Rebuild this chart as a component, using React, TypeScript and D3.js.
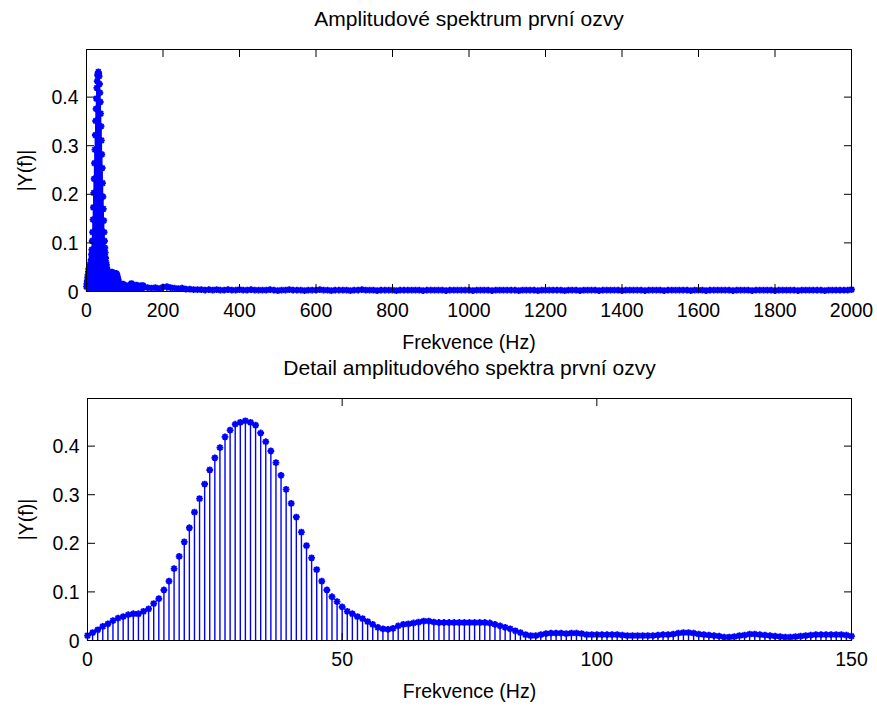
import React from "react";
import * as d3 from "d3";

// Detail spectrum, 0..150 Hz, 1 Hz resolution
const detailValues: number[] = [
  0.010, 0.016, 0.022, 0.029, 0.034, 0.041, 0.046, 0.049, 0.053, 0.055,
  0.055, 0.060, 0.065, 0.076, 0.086, 0.104, 0.122, 0.148, 0.173, 0.203,
  0.232, 0.264, 0.292, 0.322, 0.351, 0.376, 0.397, 0.419, 0.433, 0.445,
  0.449, 0.452, 0.449, 0.443, 0.427, 0.409, 0.390, 0.366, 0.340, 0.311,
  0.282, 0.254, 0.223, 0.195, 0.170, 0.146, 0.122, 0.104, 0.090, 0.080,
  0.069, 0.060, 0.055, 0.049, 0.045, 0.039, 0.033, 0.027, 0.024, 0.023,
  0.025, 0.030, 0.033, 0.034, 0.036, 0.038, 0.040, 0.040, 0.038, 0.037,
  0.037, 0.037, 0.037, 0.037, 0.037, 0.037, 0.037, 0.037, 0.037, 0.036,
  0.033, 0.030, 0.027, 0.024, 0.020, 0.016, 0.012, 0.010, 0.010, 0.012,
  0.014, 0.015, 0.015, 0.015, 0.014, 0.015, 0.015, 0.014, 0.012, 0.012,
  0.012, 0.012, 0.012, 0.012, 0.012, 0.011, 0.010, 0.010, 0.010, 0.010,
  0.010, 0.010, 0.011, 0.012, 0.012, 0.013, 0.015, 0.016, 0.016, 0.015,
  0.013, 0.012, 0.011, 0.010, 0.009, 0.007, 0.007, 0.008, 0.010, 0.011,
  0.013, 0.013, 0.012, 0.011, 0.010, 0.009, 0.008, 0.007, 0.007, 0.008,
  0.009, 0.010, 0.011, 0.012, 0.012, 0.012, 0.012, 0.012, 0.012, 0.011,
  0.009,
];
const detailStep = 1; // Hz

// Tail of the full spectrum, 160..2000 Hz, read every 10 Hz
const tailStart = 160;
const tailStep = 10;
const tailValues: number[] = [
  0.008, 0.007, 0.008, 0.006, 0.009, 0.010, 0.008, 0.007, 0.006, 0.007,
  0.005, 0.005, 0.004, 0.004, 0.004, 0.003, 0.004, 0.003, 0.004, 0.003,
  0.003, 0.004, 0.003, 0.003, 0.004, 0.003, 0.003, 0.004, 0.003, 0.003,
  0.003, 0.003, 0.004, 0.003, 0.002, 0.003, 0.003, 0.004, 0.003, 0.003,
  0.003, 0.002, 0.003, 0.003, 0.003, 0.004, 0.003, 0.003, 0.002, 0.003,
  0.003, 0.003, 0.003, 0.002, 0.003, 0.003, 0.004, 0.003, 0.003, 0.003,
  0.002, 0.003, 0.003, 0.003, 0.003, 0.002, 0.003, 0.003, 0.003, 0.003,
  0.003, 0.003, 0.002, 0.003, 0.003, 0.003, 0.003, 0.003, 0.002, 0.003,
  0.003, 0.003, 0.003, 0.003, 0.003, 0.002, 0.003, 0.003, 0.003, 0.003,
  0.002, 0.003, 0.003, 0.003, 0.003, 0.003, 0.003, 0.002, 0.003, 0.003,
  0.003, 0.003, 0.002, 0.003, 0.003, 0.003, 0.003, 0.003, 0.003, 0.002,
  0.003, 0.003, 0.003, 0.002, 0.003, 0.003, 0.003, 0.003, 0.002, 0.003,
  0.003, 0.003, 0.003, 0.003, 0.002, 0.003, 0.003, 0.003, 0.003, 0.003,
  0.002, 0.003, 0.003, 0.003, 0.003, 0.002, 0.003, 0.003, 0.003, 0.003,
  0.003, 0.003, 0.002, 0.003, 0.003, 0.003, 0.002, 0.003, 0.003, 0.003,
  0.003, 0.003, 0.003, 0.002, 0.003, 0.003, 0.003, 0.003, 0.002, 0.003,
  0.003, 0.003, 0.003, 0.003, 0.002, 0.003, 0.003, 0.003, 0.003, 0.003,
  0.002, 0.003, 0.003, 0.003, 0.003, 0.003, 0.003, 0.002, 0.003, 0.003,
  0.003, 0.003, 0.003, 0.003, 0.004,
];

const yTicks = [0, 0.1, 0.2, 0.3, 0.4];
const xTicksTop = [0, 200, 400, 600, 800, 1000, 1200, 1400, 1600, 1800, 2000];
const xTicksBottom = [0, 50, 100, 150];

const titleTop = "Amplitudové spektrum první ozvy";
const titleBottom = "Detail amplitudového spektra první ozvy";
const xLabel = "Frekvence (Hz)";
const yLabel = "|Y(f)|";

const FONT = "'Liberation Sans', Arial, Helvetica, sans-serif";
const FS = 19.5;
const FS_TITLE = 21;
const BLUE = "#0000ff";

type Pt = { f: number; v: number };

const detailPts: Pt[] = detailValues.map((v, i) => ({ f: i * detailStep, v }));
const tailPts: Pt[] = tailValues.map((v, i) => ({ f: tailStart + i * tailStep, v }));
const fullPts: Pt[] = detailPts.concat(tailPts);

function star(cx: number, cy: number, r: number) {
  const d = r * 0.72;
  return `M${cx - r},${cy}h${2 * r}M${cx},${cy - r}v${2 * r}M${cx - d},${cy - d}l${2 * d},${2 * d}M${cx - d},${cy + d}l${2 * d},${-2 * d}`;
}

function Panel(props: {
  left: number; right: number; top: number; bottom: number;
  xMax: number; xTicks: number[]; pts: Pt[]; title: string;
}) {
  const { left, right, top, bottom, xMax, xTicks, pts, title } = props;
  const x = d3.scaleLinear().domain([0, xMax]).range([left, right]);
  const y = d3.scaleLinear().domain([0, 0.498]).range([bottom, top]);
  const tl = 7.5;
  const markers = pts.map((p) => star(x(p.f), y(p.v), 3.4)).join("");
  return (
    <g>
      {pts.map((p, i) => (
        <line key={i} x1={x(p.f)} x2={x(p.f)} y1={y(0)} y2={y(p.v)} stroke={BLUE} strokeWidth={1.4} />
      ))}
      <path d={markers} stroke={BLUE} strokeWidth={1.9} fill="none" />
      <rect x={left} y={top} width={right - left} height={bottom - top} fill="none" stroke="#000" strokeWidth={1} />
      {xTicks.map((t) => (
        <g key={"x" + t}>
          <line x1={x(t)} x2={x(t)} y1={bottom} y2={bottom - tl} stroke="#000" />
          <line x1={x(t)} x2={x(t)} y1={top} y2={top + tl} stroke="#000" />
          <text x={x(t)} y={bottom + 25} textAnchor="middle" fontSize={FS} fontFamily={FONT}>{t}</text>
        </g>
      ))}
      {yTicks.map((t) => (
        <g key={"y" + t}>
          <line x1={left} x2={left + tl} y1={y(t)} y2={y(t)} stroke="#000" />
          <line x1={right} x2={right - tl} y1={y(t)} y2={y(t)} stroke="#000" />
          <text x={left - 8} y={y(t) + 7} textAnchor="end" fontSize={FS} fontFamily={FONT}>{t === 0 ? "0" : String(t)}</text>
        </g>
      ))}
      <text x={(left + right) / 2} y={top - 24} textAnchor="middle" fontSize={FS_TITLE} fontFamily={FONT}>{title}</text>
      <text x={(left + right) / 2} y={bottom + 57} textAnchor="middle" fontSize={FS} fontFamily={FONT}>{xLabel}</text>
      <text transform={`translate(${left - 55},${(top + bottom) / 2}) rotate(-90)`} textAnchor="middle" fontSize={FS} fontFamily={FONT}>{yLabel}</text>
    </g>
  );
}

export default function App() {
  return (
    <svg width={877} height={706} style={{ position: "absolute", left: 0, top: 0, background: "#fff" }}>
      <rect width={877} height={706} fill="#fff" />
      <Panel left={86.5} right={851.5} top={49.5} bottom={291.5} xMax={2000} xTicks={xTicksTop} pts={fullPts} title={titleTop} />
      <Panel left={87.5} right={851.5} top={398.5} bottom={640.5} xMax={150} xTicks={xTicksBottom} pts={detailPts} title={titleBottom} />
    </svg>
  );
}
